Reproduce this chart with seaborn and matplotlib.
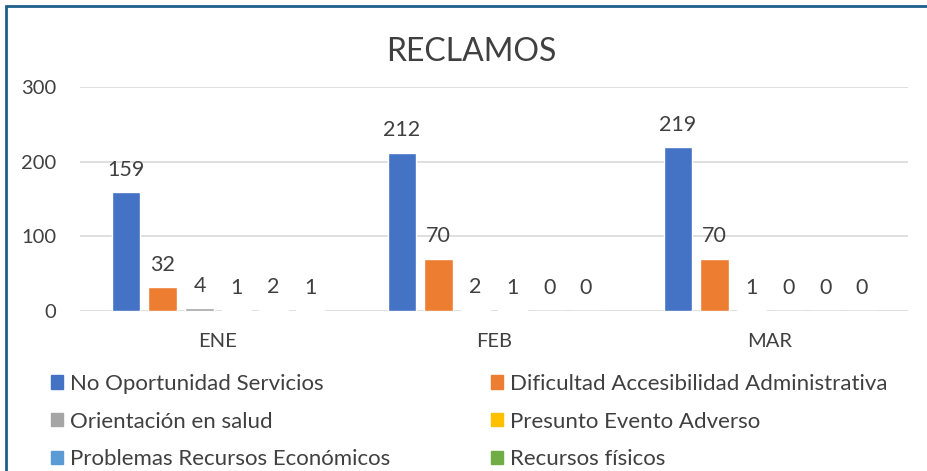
import numpy as np
import pandas as pd
import matplotlib
matplotlib.use("Agg")
import matplotlib.pyplot as plt
import seaborn as sns
from matplotlib.patches import Patch, Rectangle

# data
meses = ["ENE", "FEB", "MAR"]
series = ["No Oportunidad Servicios", "Dificultad Accesibilidad Administrativa",
          "Orientación en salud", "Presunto Evento Adverso",
          "Problemas Recursos Económicos", "Recursos físicos"]
no_oportunidad = [159, 212, 219]
dificultad = [32, 70, 70]
orientacion = [4, 2, 1]
presunto = [1, 1, 0]
problemas = [2, 0, 0]
recursos = [1, 0, 0]
colores = ["#4472C4", "#ED7D31", "#A5A5A5", "#FFC000", "#5B9BD5", "#70AD47"]

valores = [no_oportunidad, dificultad, orientacion, presunto, problemas, recursos]
rows = []
for s, vals in zip(series, valores):
    for m, v in zip(meses, vals):
        rows.append({"Mes": m, "Tipo": s, "Valor": v})
df = pd.DataFrame(rows)

sns.set_style("white")
plt.rcParams['font.family'] = ['Lato', 'DejaVu Sans']
txt = "#404040"

fig = plt.figure(figsize=(9.28, 4.71), dpi=100)
ax = fig.add_axes([80/928, 1-311/471, 828/928, 224/471])

sns.barplot(data=df, x="Mes", y="Valor", hue="Tipo", hue_order=series,
            palette=colores, width=0.8, gap=0.22, ax=ax, legend=False,
            saturation=1, errorbar=None)

for cont in ax.containers:
    ax.bar_label(cont, padding=9, fontsize=15.5, color=txt)

ax.set_ylim(0, 300)
ax.set_xlim(-0.5, 2.5)
ax.set_yticks([0, 100, 200, 300])
ax.yaxis.grid(True, color="#D9D9D9", lw=1.2)
ax.set_axisbelow(True)
for sp in ax.spines.values():
    sp.set_visible(False)
ax.tick_params(axis="y", length=0, pad=17, labelsize=14.5, labelcolor=txt)
ax.tick_params(axis="x", length=0, pad=16, labelsize=14.5, labelcolor=txt)
ax.set_xlabel("")
ax.set_ylabel("")

fig.text(471/928, 1-52/471, "RECLAMOS", ha="center", va="center",
         fontsize=23, color=txt)

# legend in two columns
handles = [Patch(color=c) for c in colores]
for col, xpos in [(0, 51/928), (1, 491/928)]:
    idx = [col, col + 2, col + 4]
    fig.legend([handles[i] for i in idx], [series[i] for i in idx],
               loc="upper left", bbox_to_anchor=(xpos, 1-374/471),
               frameon=False, fontsize=16, labelcolor=txt,
               handlelength=0.55, handleheight=0.55, handletextpad=0.3,
               labelspacing=0.79, borderpad=0, borderaxespad=0)

# chart border
fig.patches.append(Rectangle((6/928, -0.05), 1.2, 1-6/471+0.05,
                             transform=fig.transFigure, fill=False,
                             edgecolor="#1F5F8B", lw=2))

fig.savefig("out.png", dpi=100)
